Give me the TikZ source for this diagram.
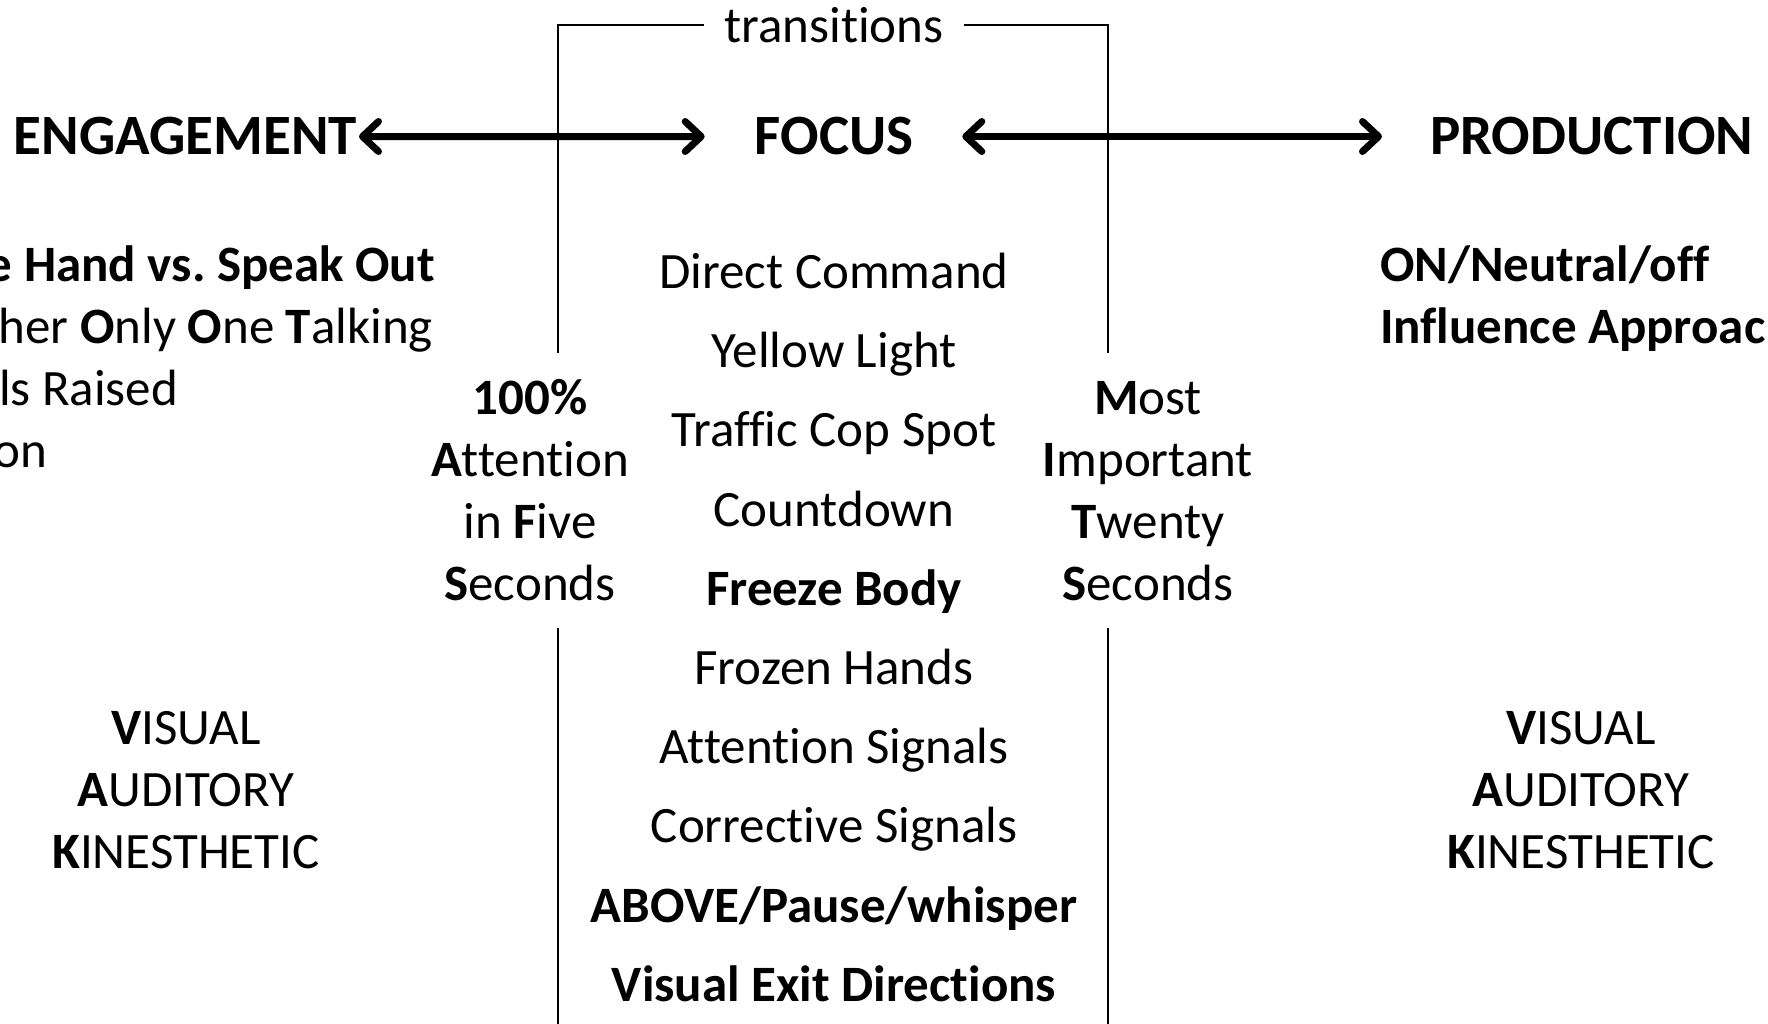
\documentclass[tikz,border=0pt]{standalone}
\usepackage{fontspec}
\setmainfont{Carlito}[Ligatures={NoCommon}]
\usetikzlibrary{arrows.meta}
\frenchspacing
\begin{document}
\begin{tikzpicture}[x=1pt,y=-1pt,
  every node/.style={inner sep=0pt, outer sep=0pt},
  txt/.style={font=\fontsize{51}{51}\selectfont, anchor=base},
  head/.style={font=\fontsize{57}{57}\selectfont\bfseries, anchor=base},
  thinline/.style={line width=2pt, draw=black},
  bigarrow/.style={line width=7pt,
    {Straight Barb[length=16pt,width=30pt,round]}-{Straight Barb[length=16pt,width=30pt,round]}}
]
\useasboundingbox (0,0) rectangle (1768,1024);
\clip (0,0) rectangle (1768,1024);
\fill[white] (0,0) rectangle (1768,1024);

% headings
\node[head, anchor=base east] (eng) at (357,155) {ENGAGEMENT};
\node[head] (focus) at (834,155) {FOCUS};
\node[head, anchor=base west] (prod) at (1430,155) {PRODUCTION};

% arrows
\draw[bigarrow] ([xshift=2pt]eng.east) -- ([xshift=-50pt]focus.west);
\draw[bigarrow] ([xshift=49pt]focus.east) -- ([xshift=-48pt]prod.west);

% transitions bracket
\node[txt, anchor=center, inner xsep=20pt] (trans) at (834,25) {transitions};
\coordinate (la) at (558,353);
\coordinate (ra) at (1108,353);
\coordinate (lb1) at (558,628);
\coordinate (lb2) at (558,1030);
\coordinate (rb1) at (1108,628);
\coordinate (rb2) at (1108,1030);
\draw[thinline] (trans.west) -| (la);
\draw[thinline] (trans.east) -| (ra);
\draw[thinline] (lb1) -- (lb2);
\draw[thinline] (rb1) -- (rb2);

% center list
\node[txt] (c1) at (834,288) {Direct Command};
\node[txt] (c2) at (834,367) {Yellow Light};
\node[txt] (c3) at (834,446) {Traffic Cop Spot};
\node[txt] (c4) at (834,526) {Countdown};
\node[txt] (c5) at (834,605) {\bfseries Freeze Body};
\node[txt] (c6) at (834,684) {Frozen Hands};
\node[txt] (c7) at (834,763) {Attention Signals};
\node[txt] (c8) at (834,842) {Corrective Signals};
\node[txt] (c9) at (834,922) {\bfseries ABOVE/Pause/whisper};
\node[txt] (c10) at (834,1001) {\bfseries Visual Exit Directions};

% left column
\node[txt] (a1) at (530,414) {\bfseries 100\%};
\node[txt] (a2) at (530,476) {\textbf{A}ttention};
\node[txt] (a3) at (530,538) {in \textbf{F}ive};
\node[txt] (a4) at (530,600) {\textbf{S}econds};

% right column
\node[txt] (m1) at (1148,414) {\textbf{M}ost};
\node[txt] (m2) at (1148,476) {\textbf{I}mportant};
\node[txt] (m3) at (1148,538) {\textbf{T}wenty};
\node[txt] (m4) at (1148,600) {\textbf{S}econds};

% left top list (clipped at the left edge, as in the reference)
\node[txt, anchor=base east] (l1) at (435,281) {\bfseries e Hand vs. Speak Out};
\node[txt, anchor=base east] (l2) at (433,343) {her \textbf{O}nly \textbf{O}ne \textbf{T}alking};
\node[txt, anchor=base west] (l3) at (-1,405) {ls Raised};
\node[txt, anchor=base west] (l4) at (-6,467) {on};

% right top list (clipped at the right edge, as in the reference)
\node[txt, anchor=base west] (r1) at (1380,281) {\bfseries ON/Neutral/off};
\node[txt, anchor=base west] (r2) at (1380,343) {\bfseries Influence Approac};

% VAK left
\node[txt] (v1) at (186,744) {\textbf{V}ISUAL};
\node[txt] (v2) at (186,806) {\textbf{A}UDITORY};
\node[txt] (v3) at (186,868) {\textbf{K}INESTHETIC};

% VAK right
\node[txt] (w1) at (1581,744) {\textbf{V}ISUAL};
\node[txt] (w2) at (1581,806) {\textbf{A}UDITORY};
\node[txt] (w3) at (1581,868) {\textbf{K}INESTHETIC};
\end{tikzpicture}
\end{document}
